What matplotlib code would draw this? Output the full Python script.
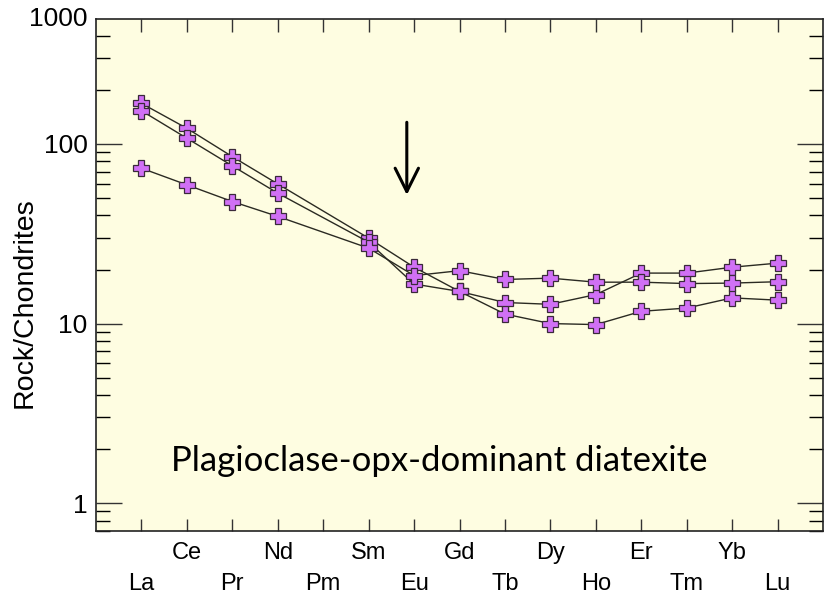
import numpy as np
import matplotlib.pyplot as plt
from matplotlib.ticker import LogLocator, NullFormatter, FixedLocator

# REE in order, Pm has no analysis
elements = ['La', 'Ce', 'Pr', 'Nd', 'Pm', 'Sm', 'Eu', 'Gd', 'Tb', 'Dy', 'Ho', 'Er', 'Tm', 'Yb', 'Lu']
measured = ['La', 'Ce', 'Pr', 'Nd', 'Sm', 'Eu', 'Gd', 'Tb', 'Dy', 'Ho', 'Er', 'Tm', 'Yb', 'Lu']

# chondrite-normalised values
sample1 = [168.3, 122.2, 85.0, 59.9, 29.9, 20.6, 15.1, 13.1, 12.8, 14.5, 19.1, 19.1, 20.6, 21.7]
sample2 = [153.1, 107.6, 75.5, 53.2, 28.4, 16.6, 15.1, 11.3, 10.0, 9.87, 11.7, 12.2, 13.9, 13.5]
sample3 = [73.3, 59.2, 47.8, 39.5, 26.3, 18.5, 19.7, 17.6, 17.9, 17.0, 17.0, 16.7, 16.8, 17.1]

title = 'Plagioclase-opx-dominant diatexite'

plt.rcParams['font.family'] = ['Liberation Sans', 'DejaVu Sans']

fig = plt.figure(figsize=(8.29, 6), dpi=100)
ax = fig.add_axes([0.1158, 0.115, 0.877, 0.853])
ax.set_facecolor('#fefde1')

xpos = [elements.index(e) for e in measured]
for s in (sample1, sample2, sample3):
    ax.plot(xpos, s, color='#2a2a22', lw=1.0, marker='P', markersize=11,
            markerfacecolor='#d070f5', markeredgecolor='#3a2a3a', markeredgewidth=0.9)

ax.set_yscale('log')
ax.set_ylim(0.7, 495)
ax.set_xlim(-1, 15)

ax.yaxis.set_major_locator(FixedLocator([1, 10, 100]))
ax.set_yticklabels(['1', '10', '100'])
ax.yaxis.set_minor_locator(LogLocator(base=10, subs=np.arange(2, 10)))
ax.yaxis.set_minor_formatter(NullFormatter())
ax.text(-0.012, 1.0, '1000', transform=ax.transAxes, ha='right', va='center', fontsize=19)

ax.set_xticks(range(len(elements)))
ax.set_xticklabels(elements)
for i, t in enumerate(ax.xaxis.get_major_ticks()):
    t.set_pad(30 if i % 2 == 0 else 8)

ax.tick_params(axis='y', which='major', direction='in', length=19, width=1, labelsize=19,
               right=True, pad=6)
ax.tick_params(axis='y', which='minor', direction='in', length=10, width=1, right=True)
ax.tick_params(axis='x', which='major', direction='in', length=9, width=1, labelsize=17,
               top=True)
for sp in ax.spines.values():
    sp.set_linewidth(1.2)
    sp.set_color('#222222')
ax.tick_params(colors='#333333', labelcolor='black')

ax.set_ylabel('Rock/Chondrites', fontsize=20.5)
ax.yaxis.set_label_coords(-0.08, 0.447)

ax.annotate('', xy=(5.84, 52), xytext=(5.84, 132),
            arrowprops=dict(arrowstyle='->', lw=2.2, color='black', mutation_scale=42,
                            shrinkA=0, shrinkB=0))

ax.text(0.472, 0.137, title, transform=ax.transAxes, ha='center', va='center',
        fontsize=25, family='Lato')

fig.savefig('out.png', dpi=100, facecolor='white')
